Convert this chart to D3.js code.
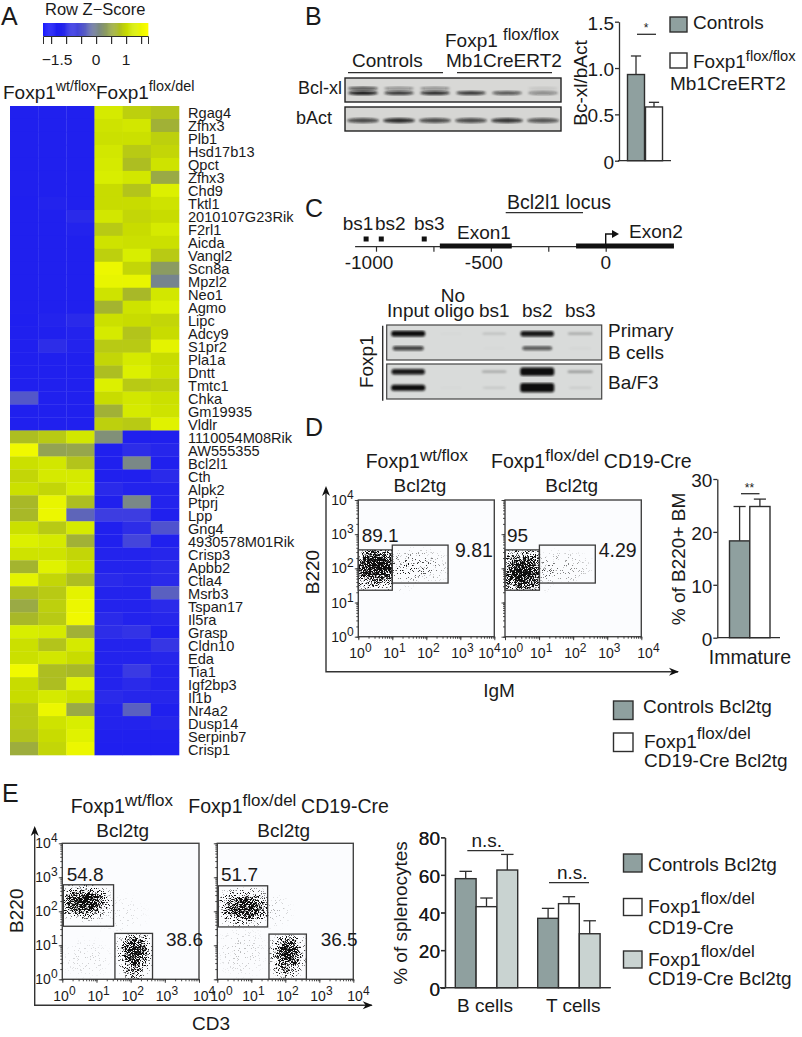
<!DOCTYPE html>
<html>
<head>
<meta charset="utf-8">
<script src="https://cdn.jsdelivr.net/npm/d3@7"></script>
<style>
  html, body { margin: 0; background: #fff; }
  svg { display: block; }
  text { font-family: "Liberation Sans", Arial, sans-serif; fill: #1a1a1a; }
</style>
</head>
<body>
<svg width="802" height="1037"></svg>
<script>
// panel A
const genes = ['Rgag4', 'Zfhx3', 'Plb1', 'Hsd17b13', 'Qpct', 'Zfhx3', 'Chd9', 'Tktl1', '2010107G23Rik', 'F2rl1', 'Aicda', 'Vangl2', 'Scn8a', 'Mpzl2', 'Neo1', 'Agmo', 'Lipc', 'Adcy9', 'S1pr2', 'Pla1a', 'Dntt', 'Tmtc1', 'Chka', 'Gm19935', 'Vldlr', '1110054M08Rik', 'AW555355', 'Bcl2l1', 'Cth', 'Alpk2', 'Ptprj', 'Lpp', 'Gng4', '4930578M01Rik', 'Crisp3', 'Apbb2', 'Ctla4', 'Msrb3', 'Tspan17', 'Il5ra', 'Grasp', 'Cldn10', 'Eda', 'Tia1', 'Igf2bp3', 'Il1b', 'Nr4a2', 'Dusp14', 'Serpinb7', 'Crisp1']
const zscores = [
  [-1.2, -1.2, -1.2, 1.2, 0.9, 0.8], [-1.2, -1.2, -1.2, 1.1, 1.15, 0.6], [-1.2, -1.2, -1.2, 1.05, 1.05, 0.9],
  [-1.2, -1.2, -1.2, 1.15, 0.85, 0.95], [-1.2, -1.2, -1.2, 1.2, 0.75, 1.1], [-1.2, -1.2, -1.2, 1.25, 1.15, 0.5],
  [-1.2, -1.2, -1.2, 1.0, 0.8, 1.3], [-1.25, -1.15, -1.2, 1.0, 1.0, 1.1], [-1.2, -1.2, -1.05, 1.15, 0.95, 1.0],
  [-1.2, -1.2, -1.15, 0.85, 1.0, 1.2], [-1.2, -1.2, -1.2, 1.1, 1.05, 1.05], [-1.2, -1.2, -1.2, 0.9, 1.25, 0.85],
  [-1.2, -1.2, -1.2, 1.5, 0.95, 0.3], [-1.2, -1.2, -1.2, 1.45, 1.45, 0.0], [-1.2, -1.2, -1.2, 1.1, 0.7, 1.15],
  [-1.2, -1.2, -1.2, 0.65, 1.1, 1.3], [-1.25, -1.15, -1.05, 1.05, 1.0, 0.95], [-1.2, -1.2, -1.15, 1.2, 0.8, 1.0],
  [-1.2, -1.0, -1.15, 0.85, 0.85, 1.4], [-1.2, -1.2, -1.2, 0.95, 1.2, 1.0], [-1.2, -1.2, -1.2, 0.75, 1.3, 1.05],
  [-1.2, -1.2, -1.2, 1.3, 0.85, 0.9], [-0.45, -1.2, -1.2, 1.0, 1.15, 1.05], [-1.2, -1.2, -1.2, 0.6, 1.2, 1.1],
  [-1.2, -1.2, -1.2, 0.9, 0.85, 1.35],
  [0.75, 0.85, 1.15, 0.15, -1.2, -1.2], [1.55, 0.4, 0.45, -1.2, -1.0, -1.1], [1.05, 1.15, 0.8, -1.2, 0.05, -1.2],
  [0.95, 1.2, 1.2, -1.2, -1.2, -1.05], [1.05, 0.95, 1.25, -1.05, -1.15, -1.15], [0.7, 1.45, 0.75, -1.2, 0.05, -1.15],
  [0.7, 1.5, -0.3, -0.75, -0.75, -1.2], [1.05, 0.85, 1.2, -1.2, -1.0, -0.5], [1.3, 1.2, 0.6, -1.2, -0.65, -1.2],
  [1.1, 1.1, 0.95, -1.15, -1.15, -1.1], [0.65, 1.35, 1.05, -1.15, -1.15, -1.05], [1.4, 0.95, 0.75, -1.05, -1.1, -1.05],
  [0.75, 0.85, 1.4, -1.15, -1.15, -0.35], [0.5, 0.9, 1.5, -1.15, -1.15, -1.05], [0.7, 0.85, 1.55, -1.05, -1.15, -1.1],
  [1.25, 1.2, 0.6, -1.0, -0.9, -1.2], [1.05, 0.8, 1.2, -1.15, -1.15, -0.85], [1.05, 1.15, 1.0, -1.15, -1.15, -1.1],
  [1.55, 0.75, 0.7, -1.15, -0.8, -1.15], [1.0, 0.75, 1.35, -1.15, -1.05, -1.15], [1.0, 1.2, 1.05, -1.05, -1.1, -1.1],
  [0.85, 1.5, 0.5, -1.15, -0.35, -1.2], [0.85, 1.1, 1.25, -1.15, -1.15, -1.1], [0.8, 1.0, 1.35, -1.2, -1.2, -1.2],
  [0.55, 0.95, 1.5, -1.25, -1.25, -1.25]
]
const colorStops = [-1.77, -1.2, -0.7, -0.35, 0, 0.35, 0.7, 1.0, 1.25, 1.73]
const colorValues = ['#1a1aff', '#2020ee', '#4040e0', '#5a60c0', '#76848e', '#8f9f5a', '#a8b828', '#c8dc00', '#d8ee00', '#ffff00']
const zTicks = [-1.5, -1, -0.5, 0, 0.5, 1, 1.5]
const zLabels = [-1.5, 0, 1]

// panel B
const blotLanes = [0, 1, 2, 3, 4, 5]
const bclxlUpper = [0.65, 0.35, 0.35, 0, 0, 0.08]
const bclxlBands = [0.95, 0.8, 0.85, 0.8, 0.65, 0.4]
const bactBands = [0.7, 0.85, 0.7, 0.7, 0.8, 0.65]
const bRatio = [0.93, 0.58]
const bRatioTop = [1.13, 0.63]

// panel C
const locusTicks = [-1000, -750, -500, -250, 0]
const locusLabels = [-1000, -500, 0]
const bindingSites = [['bs1', -1043], ['bs2', -977], ['bs3', -790]]
const exons = [['Exon1', -722, -409], ['Exon2', -129, 297]]
const gelLanes = ['Input', 'oligo', 'bs1', 'bs2', 'bs3']
const primaryTop = [1, 0.03, 0.16, 0.95, 0.25]
const primaryBottom = [0.75, 0, 0.03, 0.65, 0.05]
const baf3Top = [0.95, 0, 0.25, 1.5, 0.3]
const baf3Bottom = [1.05, 0.03, 0.13, 1.7, 0.1]

// panel D
const decades = [1, 10, 100, 1000, 10000]
const dGates = [[0, 1, 1.36, 2.54], [1, 2.64, 1.57, 2.68]]
const dGatesB = [[0, 1.01, 1.36, 2.54], [1.01, 2.65, 1.57, 2.68]]
const dCellsA = [
  [0.55, 2.05, 1.1, 0.9, 0.95, 0], [0.55, 2.05, 0.65, 0.5, 0.7, 0], [1.7, 2.05, 1.15, 0.62, 0.26, 1],
  [1.2, 2.0, 0.5, 0.45, 0.16, 1], [1.25, 1.45, 0.5, 0.2, 0.05, -1]
]
const dCellsB = [
  [0.54, 1.88, 1.05, 0.95, 0.95, 0], [0.52, 1.85, 0.55, 0.45, 0.75, 0], [1.6, 2.0, 1.15, 0.62, 0.17, 1],
  [1.15, 1.95, 0.42, 0.42, 0.12, 1], [1.2, 1.45, 0.5, 0.2, 0.03, -1]
]
const immature = [18.3, 24.8]
const immatureTop = [24.8, 26.2]

// panel E
const eGatesA = [[0.03, 1.5, 1.56, 2.78], [1.54, 2.64, 0, 1.35]]
const eGatesB = [[0.03, 1.48, 1.54, 2.75], [1.52, 2.62, 0, 1.33]]
const eCellsA = [
  [0.62, 2.28, 1.0, 0.62, 1, 0], [0.65, 2.28, 0.6, 0.33, 0.7, 0], [1.7, 1.9, 0.9, 0.7, 0.05, -1],
  [2.12, 0.78, 0.62, 0.9, 0.9, 1], [2.15, 0.8, 0.35, 0.45, 0.6, 1], [2.05, 0.2, 0.4, 0.35, 0.4, 1],
  [0.7, 0.6, 0.9, 0.7, 0.06, -1]
]
const eCellsB = [
  [0.78, 2.12, 1.05, 0.68, 0.85, 0], [0.78, 2.12, 0.6, 0.36, 0.55, 0], [1.6, 2.0, 0.7, 0.6, 0.1, -1],
  [2.08, 0.76, 0.65, 0.85, 0.85, 1], [2.1, 0.78, 0.36, 0.42, 0.65, 1], [2.0, 0.25, 0.45, 0.35, 0.3, 1],
  [0.7, 0.8, 0.9, 0.9, 0.08, -1]
]
const cellTypes = ['B cells', 'T cells']
const spleenGroups = ['control', 'cre', 'creTg']
const spleenValues = [[58, 43.1, 62.6], [36.9, 44.7, 28.7]]
const spleenTops = [[61.9, 47.7, 70.9], [42.2, 48.4, 35.6]]

const GREY = '#8fa09f', LIGHT = '#c9d3d1', INK = '#2e2e2e'
const groupFill = { control: GREY, cre: '#fff', creTg: LIGHT }

const svg = d3.select('svg')
const defs = svg.append('defs')

// soft edge for blot bands
defs.append('filter').attr('id', 'soft').append('feGaussianBlur').attr('stdDeviation', 0.9)

// population density turned into speckle
const grain = defs.append('filter').attr('id', 'grain')
  .attr('filterUnits', 'userSpaceOnUse').attr('x', 0).attr('y', 0).attr('width', 802).attr('height', 1037)
  .attr('color-interpolation-filters', 'sRGB')
grain.append('feTurbulence').attr('type', 'fractalNoise').attr('baseFrequency', 1.6).attr('numOctaves', 1).attr('seed', 7).attr('result', 'n')
grain.append('feColorMatrix').attr('in', 'n').attr('type', 'matrix')
  .attr('values', '0 0 0 0 0 0 0 0 0 0 0 0 0 0 0 3 0 0 0 -1').attr('result', 'noise')
grain.append('feComposite').attr('in', 'SourceGraphic').attr('in2', 'noise').attr('operator', 'arithmetic')
  .attr('k1', 0).attr('k2', 3.5).attr('k3', -3.5).attr('k4', 0.05).attr('result', 'dots')
grain.append('feGaussianBlur').attr('in', 'dots').attr('stdDeviation', 0.3)

const blob = defs.append('radialGradient').attr('id', 'blob')
blob.selectAll('stop').data([[0, 1], [0.45, 0.7], [0.75, 0.25], [1, 0]]).join('stop')
  .attr('offset', d => d[0]).attr('stop-color', '#000').attr('stop-opacity', d => d[1])

function label(x, y, str, size = 19, anchor = 'start') {
  return svg.append('text').attr('x', x).attr('y', y).attr('font-size', size).attr('text-anchor', anchor).text(str)
}

// parts: [text, isSuper]
function rich(x, y, parts, size = 19, supSize = 14, supRise = 9) {
  const t = svg.append('text').attr('x', x).attr('y', y).attr('font-size', size)
  let up = false
  parts.forEach(p => {
    const s = t.append('tspan').text(p[0])
    const isSup = !!p[1]
    if (isSup) s.attr('font-size', supSize)
    if (isSup !== up) s.attr('dy', isSup ? -supRise : supRise)
    up = isSup
  })
  return t
}

function vlabel(x, y, str, size = 19) {
  return svg.append('text').attr('transform', `translate(${x},${y}) rotate(-90)`)
    .attr('font-size', size).attr('text-anchor', 'middle').text(str)
}

function seg(x1, y1, x2, y2, w = 1.3, color = INK) {
  return svg.append('line').attr('x1', x1).attr('y1', y1).attr('x2', x2).attr('y2', y2)
    .attr('stroke', color).attr('stroke-width', w)
}

function swatch(x, y, w, h, fill) {
  return svg.append('rect').attr('x', x).attr('y', y).attr('width', w).attr('height', h)
    .attr('fill', fill).attr('stroke', INK).attr('stroke-width', 1.4)
}

;[['A', 1, 25], ['B', 305, 25], ['C', 305, 217], ['D', 305, 436], ['E', 2, 802]].forEach(d => label(d[1], d[2], d[0], 25))

// ---- A: heatmap
const heatX = d3.scaleBand().domain(d3.range(6)).range([10, 179])
const heatY = d3.scaleBand().domain(d3.range(genes.length)).range([106, 755])
const heatColor = d3.scaleLinear().domain(colorStops).range(colorValues).clamp(true)

svg.append('g').selectAll('g').data(zscores).join('g')
  .attr('transform', (d, i) => `translate(0,${heatY(i)})`)
  .selectAll('rect').data(d => d).join('rect')
  .attr('x', (d, i) => heatX(i)).attr('width', heatX.bandwidth() + 0.3)
  .attr('height', heatY.bandwidth() + 0.3).attr('fill', d => heatColor(d))

svg.append('g').selectAll('text').data(genes).join('text')
  .attr('x', 188).attr('y', (d, i) => heatY(i) + heatY.bandwidth() / 2 + 6)
  .attr('font-size', 14.6).text(d => d)

const zScale = d3.scaleLinear().domain([-1.77, 1.73]).range([43, 148])
svg.append('g').selectAll('rect').data(d3.range(-1.77, 1.73, 0.035)).join('rect')
  .attr('x', d => zScale(d)).attr('y', 23).attr('width', 1.4).attr('height', 13).attr('fill', d => heatColor(d))
svg.append('g').attr('transform', 'translate(0,36)')
  .call(d3.axisBottom(zScale).tickValues(zTicks).tickSize(8).tickFormat(''))
  .call(g => g.select('.domain').attr('stroke', INK))
  .call(g => g.selectAll('.tick line').attr('stroke', INK).attr('stroke-width', 1.2))
zLabels.forEach(v => label(zScale(v) + (v < 0 ? 6 : 0), 65, String(v).replace('-', '\u2212'), 15.5, 'middle'))
label(45, 15, 'Row Z\u2212Score', 16.5)
rich(3, 99, [['Foxp1'], ['wt/flox', 1]], 19, 14.2, 8)
rich(96, 99, [['Foxp1'], ['flox/del', 1]], 19, 14.4, 8)

// ---- B: blot
function blot(x, y, w, h, bg) {
  svg.append('rect').attr('x', x).attr('y', y).attr('width', w).attr('height', h)
    .attr('fill', bg).attr('stroke', '#222').attr('stroke-width', 1.4)
}
function bands(scale, y, values, height, width) {
  svg.append('g').attr('filter', 'url(#soft)').selectAll('ellipse').data(values).join('ellipse')
    .attr('cx', (d, i) => scale(i) + scale.bandwidth() / 2).attr('cy', y)
    .attr('rx', width).attr('ry', height).attr('fill', '#111').attr('opacity', d => d)
}
const laneB = d3.scaleBand().domain(blotLanes).range([345, 561])
blot(345, 78, 216, 24, '#d8d8d6')
blot(345, 107, 216, 24, '#d6d6d4')
bands(laneB, 88.5, bclxlUpper, 2, 15)
bands(laneB, 93, bclxlBands, 2, 15)
bands(laneB, 120.5, bactBands, 2.6, 16)
label(342, 94, 'Bcl-xl', 18, 'end')
label(296, 124, 'bAct', 18)
label(352, 67, 'Controls', 19)
rich(445, 47, [['Foxp1 '], ['flox/flox', 1]], 19, 16.5, 7)
label(446, 67, 'Mb1CreERT2', 19)
seg(348, 72.7, 443, 72.7)
seg(457, 72.7, 552, 72.7)

function barChart({ yScale, xLeft, xRight, ticks, format, values, tops, fills, xs, w }) {
  const axis = svg.append('g').attr('transform', `translate(${yScale.axisX},0)`)
    .call(d3.axisLeft(yScale).tickValues(ticks).tickFormat(format).tickSize(4).tickSizeOuter(0))
  axis.select('.domain').attr('stroke', INK).attr('stroke-width', 1.3)
  axis.selectAll('.tick line').attr('stroke', INK).attr('stroke-width', 1.3)
  axis.selectAll('.tick text').attr('font-size', 19).attr('dy', '0.4em').attr('x', -5).attr('font-family', '"Liberation Sans"').attr('fill', '#1a1a1a')
  seg(xLeft, yScale(0), xRight, yScale(0))
  values.forEach((v, i) => {
    const cx = xs[i] + w / 2
    seg(cx, yScale(v), cx, yScale(tops[i]))
    seg(cx - w * 0.3, yScale(tops[i]), cx + w * 0.3, yScale(tops[i]))
    swatch(xs[i], yScale(v), w, yScale(0) - yScale(v), fills[i])
  })
}

const yB = d3.scaleLinear().domain([0, 1.5]).range([160.7, 21.7])
yB.axisX = 619
barChart({
  yScale: yB, xLeft: 618, xRight: 671, ticks: [0, 0.5, 1, 1.5],
  format: d => d === 0 ? '0' : d3.format('.1f')(d), values: bRatio, tops: bRatioTop,
  fills: [GREY, '#fff'], xs: [627.5, 645.5], w: 17
})
seg(637, 34.3, 656, 34.3)
label(646, 32, '*', 12, 'middle')
vlabel(587, 83, 'Bc-xl/bAct', 19)
swatch(670, 17, 17, 15, GREY)
label(693, 28.5, 'Controls', 19)
swatch(670, 53, 17, 15, '#fff')
rich(693, 68, [['Foxp1'], ['flox/flox', 1]], 19, 14.7, 7)
label(670, 90, 'Mb1CreERT2', 19)

// ---- C: locus map and gel
const locus = d3.scaleLinear().domain([-1000, 0]).range([376, 605.7])
seg(locus(-1091), 246.7, locus(297), 246.7, 1.2)
svg.append('g').attr('transform', 'translate(0,246.7)')
  .call(d3.axisBottom(locus).tickValues(locusTicks).tickSize(5).tickFormat(''))
  .call(g => g.select('.domain').remove())
  .call(g => g.selectAll('.tick line').attr('stroke', INK).attr('stroke-width', 1.2))
locusLabels.forEach(v => label(locus(v) + (v === 0 ? 0 : -7), 269, v, 19, 'middle'))
exons.forEach(e => svg.append('rect').attr('x', locus(e[1])).attr('width', locus(e[2]) - locus(e[1]))
  .attr('y', 243.5).attr('height', 5).attr('fill', '#111'))
bindingSites.forEach(b => {
  svg.append('rect').attr('x', locus(b[1]) - 2.5).attr('y', 236.5).attr('width', 5).attr('height', 5).attr('fill', '#111')
})
label(342.7, 230, 'bs1', 19)
label(375, 230, 'bs2', 19)
label(414, 230, 'bs3', 19)
label(457, 239, 'Exon1', 19)
label(629, 238, 'Exon2', 19)
label(507, 209, 'Bcl2l1 locus', 19.5)
seg(505.7, 212.7, 583, 212.7, 1.2)
svg.append('path').attr('d', `M${locus(0)},246 V234 H614`).attr('fill', 'none').attr('stroke', '#111').attr('stroke-width', 1.4)
svg.append('path').attr('d', 'M612,230 L619,234 L612,238 Z').attr('fill', '#111')

const laneC = d3.scaleBand().domain(d3.range(5)).range([386.7, 601.7])
function gel(y, h) {
  svg.append('rect').attr('x', 386.7).attr('y', y).attr('width', 215).attr('height', h)
    .attr('fill', '#d9dbda').attr('stroke', '#444').attr('stroke-width', 1.2)
}
function gelRow(y, values) {
  svg.append('g').attr('filter', 'url(#soft)').selectAll('rect').data(values).join('rect')
    .attr('x', (d, i) => laneC(i) + laneC.bandwidth() / 2 - (11 + 6 * Math.min(d, 1)))
    .attr('width', d => 22 + 12 * Math.min(d, 1))
    .attr('y', d => y - (0.5 + 2.4 * d)).attr('height', d => 1 + 4.8 * d).attr('rx', 2.5)
    .attr('fill', '#0d0d0d').attr('opacity', d => Math.min(d, 1))
}
gel(325, 35)
gel(364, 35)
gelRow(333.7, primaryTop)
gelRow(348.3, primaryBottom)
gelRow(371.7, baf3Top)
gelRow(387.7, baf3Bottom)
label(453, 301.7, 'No', 19, 'middle')
gelLanes.forEach((d, i) => label(laneC(i) + laneC.bandwidth() / 2 + (i === 1 ? 3 : 0), 317, d, 19, 'middle'))
seg(382.7, 325.7, 382.7, 400.7, 1.4)
vlabel(372.7, 361.7, 'Foxp1', 19)
label(608, 337, 'Primary', 19)
label(608, 359, 'B cells', 19)
label(608, 389, 'Ba/F3', 19)

// ---- FACS plots
function facs({ left, right, top, bottom, cells, gates, id, yLabels, labelShift }) {
  const x = d3.scaleLog().domain([1, 1e4]).range([left, right])
  const y = d3.scaleLog().domain([1, 1e4]).range([bottom, top])
  const px = l => x(Math.pow(10, l))
  const py = l => y(Math.pow(10, l))

  svg.append('rect').attr('x', left).attr('y', top).attr('width', right - left).attr('height', bottom - top).attr('fill', '#fbfcfe')

  gates.forEach((g, i) => {
    defs.append('clipPath').attr('id', `${id}g${i}`).append('rect')
      .attr('x', px(g[0])).attr('y', py(g[3])).attr('width', px(g[1]) - px(g[0])).attr('height', py(g[2]) - py(g[3]))
  })
  defs.append('clipPath').attr('id', `${id}all`).append('rect')
    .attr('x', left).attr('y', top).attr('width', right - left).attr('height', bottom - top)

  svg.append('g').attr('filter', 'url(#grain)').attr('clip-path', `url(#${id}all)`)
    .append('g').selectAll('ellipse').data(cells).join('ellipse')
    .attr('clip-path', d => `url(#${id}${d[5] < 0 ? 'all' : 'g' + d[5]})`)
    .attr('cx', d => px(d[0])).attr('cy', d => py(d[1]))
    .attr('rx', d => px(d[2]) - px(0)).attr('ry', d => py(0) - py(d[3]))
    .attr('fill', 'url(#blob)').attr('opacity', d => d[4])

  gates.forEach(g => {
    svg.append('rect').attr('x', px(g[0])).attr('y', py(g[3])).attr('width', px(g[1]) - px(g[0])).attr('height', py(g[2]) - py(g[3]))
      .attr('fill', 'none').attr('stroke', '#3a3a3a').attr('stroke-width', 1.3)
  })
  svg.append('rect').attr('x', left).attr('y', top).attr('width', right - left).attr('height', bottom - top)
    .attr('fill', 'none').attr('stroke', '#444').attr('stroke-width', 1.4)

  const style = g => {
    g.select('.domain').remove()
    g.selectAll('.tick line').attr('stroke', '#333').attr('stroke-width', 0.9)
  }
  svg.append('g').attr('transform', `translate(0,${bottom})`).call(d3.axisBottom(x).tickValues(x.ticks()).tickSize(2).tickFormat('')).call(style)
  svg.append('g').attr('transform', `translate(0,${bottom})`).call(d3.axisBottom(x).tickValues(decades).tickSize(3.5).tickFormat('')).call(style)
  svg.append('g').attr('transform', `translate(${left},0)`).call(d3.axisLeft(y).tickValues(y.ticks()).tickSize(2).tickFormat('')).call(style)
  svg.append('g').attr('transform', `translate(${left},0)`).call(d3.axisLeft(y).tickValues(decades).tickSize(3.5).tickFormat('')).call(style)

  decades.forEach((v, i) => {
    rich(x(v) - 9 + labelShift[i], bottom + 21.5, [['10'], [String(i), 1]], 14, 12, 6)
    if (yLabels) rich(left - 27, y(v) + 5, [['10'], [String(i), 1]], 14, 12, 6)
  })
}

function arrows(x0, yBottom, yTop, xRight) {
  svg.append('path').attr('d', `M${x0},${yTop} V${yBottom} H${xRight}`).attr('fill', 'none').attr('stroke', '#333').attr('stroke-width', 1.4)
  svg.append('path').attr('d', `M${x0 - 4},${yTop + 8} L${x0},${yTop - 2} L${x0 + 4},${yTop + 8} L${x0},${yTop + 5} Z`).attr('fill', '#111')
  svg.append('path').attr('d', `M${xRight - 9},${yBottom - 4} L${xRight + 1},${yBottom} L${xRight - 9},${yBottom + 4} L${xRight - 6},${yBottom} Z`).attr('fill', '#111')
}

// ---- D
facs({ left: 358.3, right: 494.3, top: 500, bottom: 636.7, cells: dCellsA, gates: dGates, id: 'da', yLabels: true, labelShift: [0, 0, 0, 0, -7] })
facs({ left: 505, right: 641.3, top: 500, bottom: 636.7, cells: dCellsB, gates: dGatesB, id: 'db', yLabels: false, labelShift: [5, 0, 0, 0, 5] })
arrows(326, 671.7, 488, 678)
rich(365.7, 468, [['Foxp1'], ['wt/flox', 1]], 19.5, 17, 7)
label(420, 492, 'Bcl2tg', 19, 'middle')
rich(491, 468, [['Foxp1'], ['flox/del ', 1], ['CD19-Cre']], 19.5, 17, 7)
label(571.7, 492, 'Bcl2tg', 19, 'middle')
label(361.7, 542, '89.1', 19)
label(455, 557, '9.81', 19.5)
label(507, 542, '95', 19)
label(598.7, 557, '4.29', 19.5)
vlabel(319.3, 572, 'B220', 19)
label(499, 697, 'IgM', 19, 'middle')

const yD = d3.scaleLinear().domain([0, 30]).range([637.7, 479])
yD.axisX = 717.3
barChart({
  yScale: yD, xLeft: 717, xRight: 780, ticks: [0, 10, 20, 30], format: d3.format('d'),
  values: immature, tops: immatureTop, fills: [GREY, '#fff'], xs: [729.5, 749.8], w: 20.2
})
seg(741, 493.7, 759.5, 493.7)
label(749.5, 492, '**', 12, 'middle')
vlabel(685, 559, '% of B220+ BM', 19)
label(750, 664, 'Immature', 19.5, 'middle')
swatch(613.5, 701, 19.5, 18.5, GREY)
label(643, 713, 'Controls Bcl2tg', 19)
swatch(613.5, 733, 19.5, 18.5, '#fff')
rich(644, 747.7, [['Foxp1'], ['flox/del', 1]], 19, 17, 9)
label(644, 767, 'CD19-Cre Bcl2tg', 19)

// ---- E
facs({ left: 62.3, right: 199, top: 843.3, bottom: 979.3, cells: eCellsA, gates: eGatesA, id: 'ea', yLabels: true, labelShift: [0, 0, 0, 0, 3] })
facs({ left: 217.3, right: 353.3, top: 843.3, bottom: 979.3, cells: eCellsB, gates: eGatesB, id: 'eb', yLabels: false, labelShift: [2, 0, 0, 0, 3] })
arrows(34.7, 1005.3, 828, 371.7)
rich(70.7, 812.7, [['Foxp1'], ['wt/flox', 1]], 19.5, 17, 7)
label(122.7, 836.7, 'Bcl2tg', 19, 'middle')
rich(188.3, 812.7, [['Foxp1'], ['flox/del ', 1], ['CD19-Cre']], 19.5, 17, 7)
label(283.7, 836.7, 'Bcl2tg', 19, 'middle')
label(66.7, 880.7, '54.8', 19)
label(166, 945.7, '38.6', 19)
label(221, 880.7, '51.7', 19)
label(320.7, 945.7, '36.5', 19)
vlabel(23.3, 910.7, 'B220', 19)
label(211, 1030, 'CD3', 19, 'middle')

const yE = d3.scaleLinear().domain([0, 80]).range([987.7, 837.3])
yE.axisX = 445
const groupX = d3.scaleBand().domain(spleenGroups).range([0, 62.4])
const cellX = d3.scaleOrdinal().domain(cellTypes).range([455.3, 537.7])
cellTypes.forEach((c, i) => {
  barChart({
    yScale: yE, xLeft: 440, xRight: 610.7, ticks: [0, 20, 40, 60, 80], format: d3.format('d'),
    values: spleenValues[i], tops: spleenTops[i], fills: spleenGroups.map(g => groupFill[g]),
    xs: spleenGroups.map(g => cellX(c) + groupX(g)), w: groupX.bandwidth()
  })
})
seg(467.3, 850.7, 504, 850.7)
label(486.7, 846.7, 'n.s.', 19, 'middle')
seg(549, 882.7, 589, 882.7)
label(572.3, 879.3, 'n.s.', 19, 'middle')
label(485, 1011.7, 'B cells', 19, 'middle')
label(573.3, 1011.7, 'T cells', 19, 'middle')
vlabel(406.7, 913, '% of splenocytes', 19)
swatch(623.5, 854, 18.5, 18, GREY)
label(648, 870.7, 'Controls Bcl2tg', 19)
swatch(623.5, 898.5, 18.5, 17, '#fff')
rich(648, 913, [['Foxp1'], ['flox/del', 1]], 19, 17, 9)
label(648, 934, 'CD19-Cre', 19)
swatch(623.5, 951, 18.5, 17, LIGHT)
rich(648, 966, [['Foxp1'], ['flox/del', 1]], 19, 17, 9)
label(648, 985, 'CD19-Cre Bcl2tg', 19)
</script>
</body>
</html>
